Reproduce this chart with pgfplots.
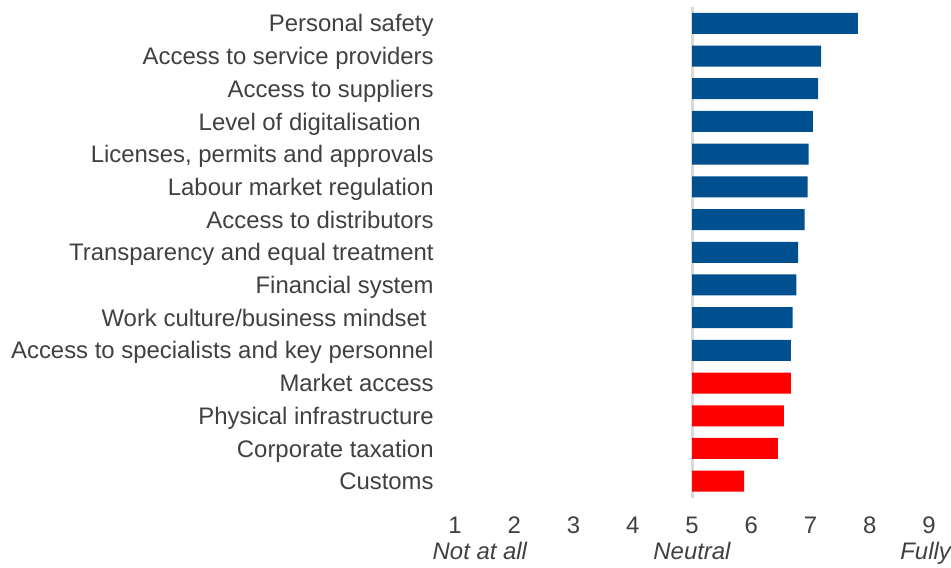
\documentclass[border=0pt]{standalone}
\usepackage{fontspec}
\setmainfont{Liberation Sans}
\usepackage{pgfplots}
\usepackage{pgfplotstable}
\pgfplotsset{compat=1.18}

\definecolor{barblue}{HTML}{00508F}
\definecolor{barred}{HTML}{FF0000}
\definecolor{txtgray}{HTML}{404040}
\definecolor{linegray}{HTML}{D9D9D9}

% scores on a 1-9 scale, bars drawn from the neutral point 5
\pgfplotstableread{
pos v
15 7.80
14 7.18
13 7.13
12 7.04
11 6.97
10 6.95
9  6.90
8  6.79
7  6.76
6  6.70
5  6.67
}\bluedata
\pgfplotstableread{
pos v
4 6.67
3 6.55
2 6.45
1 5.88
}\reddata

\begin{document}
\fontsize{11.95bp}{14bp}\selectfont
\begin{tikzpicture}
\begin{axis}[
    xbar,
    bar shift=0pt,
    scale only axis,
    width=237bp,
    height=245.25bp,
    bar width=10.5bp,
    xmin=-4, xmax=4,
    ymin=0.5, ymax=15.5,
    xtick={-4,...,4},
    xticklabels={1,2,3,4,5,6,7,8,9},
    ytick={1,...,15},
    yticklabels={Customs, Corporate taxation, Physical infrastructure, Market access,
        Access to specialists and key personnel, Work culture/business mindset\hspace*{3.5bp},
        Financial system, Transparency and equal treatment, Access to distributors,
        Labour market regulation, {Licenses, permits and approvals},
        Level of digitalisation\hspace*{6.5bp}, Access to suppliers,
        Access to service providers, Personal safety},
    axis line style={draw=none},
    major tick length=0pt,
    tick label style={text=txtgray, font=\fontsize{11.95bp}{14bp}\selectfont},
    xticklabel style={inner sep=0pt, anchor=north, yshift=-9.5bp},
    yticklabel style={inner sep=0pt, anchor=east, xshift=-10.5bp,
        text height=8.55bp, text depth=0pt},
    /pgf/number format/assume math mode=true,
    clip=false,
]
\draw[linegray, line width=1.5bp] (axis cs:0,0.5) -- (axis cs:0,15.5);
\addplot[fill=barblue, draw=none] table[x expr=\thisrow{v}-5, y=pos] {\bluedata};
\addplot[fill=barred, draw=none] table[x expr=\thisrow{v}-5, y=pos] {\reddata};

\node[anchor=base, text=txtgray, font=\itshape] at ([yshift=-30.75bp]axis cs:-3.58,0.5) {Not at all};
\node[anchor=base, text=txtgray, font=\itshape] at ([yshift=-30.75bp]axis cs:0,0.5) {Neutral};
\node[overlay, anchor=base west, inner sep=0pt, text=txtgray, font=\itshape] at ([yshift=-30.75bp]axis cs:3.51,0.5) {Fully};
\end{axis}
% page frame matching the reference margins
\path ([xshift=-227.5bp, yshift=-32.75bp]current axis.south west)
    rectangle ([xshift=11bp, yshift=3.5bp]current axis.north east);
\end{tikzpicture}
\end{document}
